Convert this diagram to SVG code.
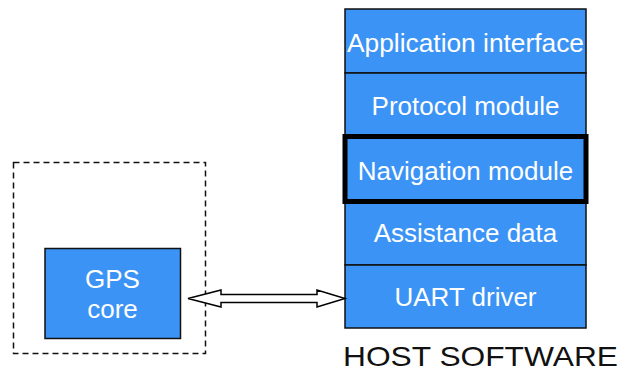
<svg xmlns="http://www.w3.org/2000/svg" width="623" height="373" viewBox="0 0 623 373">
<style>
.box{fill:#3b93f5;stroke:#111;stroke-width:1.5}
.t{font-family:"Liberation Sans",Arial,sans-serif;font-size:26px;fill:#fff;text-anchor:middle}
</style>
<rect width="623" height="373" fill="#fff"/>
<g id="dashed-boundary">
<rect x="13.5" y="162.5" width="192" height="191" fill="none" stroke="#111" stroke-width="1.5" stroke-dasharray="6 4"/>
</g>
<g id="gps-core">
<rect class="box" x="45" y="248.5" width="135.5" height="90"/>
<text class="t" x="112.5" y="288">GPS</text>
<text class="t" x="112.5" y="318">core</text>
</g>
<g id="app-interface">
<rect class="box" x="345" y="9" width="241" height="64"/>
<text class="t" x="465.5" y="52" textLength="237" lengthAdjust="spacingAndGlyphs">Application interface</text>
</g>
<g id="protocol-module">
<rect class="box" x="345" y="73" width="241" height="63"/>
<text class="t" x="465.5" y="115">Protocol module</text>
</g>
<g id="assistance-data">
<rect class="box" x="345" y="202" width="241" height="63"/>
<text class="t" x="465.5" y="242">Assistance data</text>
</g>
<g id="uart-driver">
<rect class="box" x="345" y="265" width="241" height="63"/>
<text class="t" x="465.5" y="306">UART driver</text>
</g>
<g id="navigation-module">
<rect x="345" y="136.5" width="241" height="65" fill="#3b93f5" stroke="#000" stroke-width="5"/>
<text class="t" x="465.5" y="180">Navigation module</text>
</g>
<g id="host-software-label">
<text x="343" y="366" font-family="'Liberation Sans',Arial,sans-serif" font-size="28" fill="#111" textLength="275" lengthAdjust="spacingAndGlyphs">HOST SOFTWARE</text>
</g>
<g id="connectors">
<polygon points="188,298.5 221,290 221,294.5 317,294.5 317,290 345,298.5 317,307 317,302.5 221,302.5 221,307" fill="#fff" stroke="#000" stroke-width="1.5" stroke-linejoin="miter"/>
</g>
</svg>
